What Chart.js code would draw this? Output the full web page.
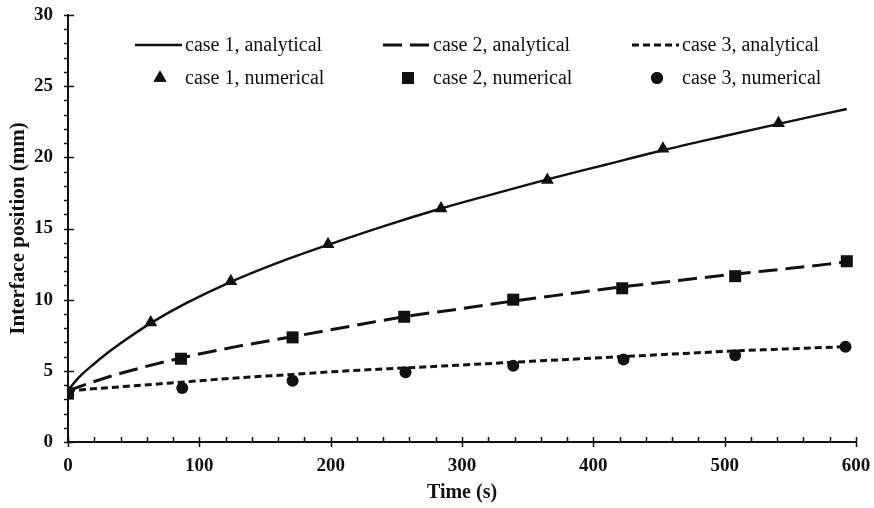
<!DOCTYPE html>
<html>
<head>
<meta charset="utf-8">
<script src="https://cdn.jsdelivr.net/npm/chart.js@4.4.1/dist/chart.umd.min.js"></script>
<style>
  html, body { margin: 0; padding: 0; background: #fff; }
  #wrap { width: 874px; height: 508px; }
</style>
</head>
<body>
<div id="wrap"><canvas id="chart"></canvas></div>
<script>
// analytical curves
var case1Time = [0, 5, 10, 20, 30, 45, 63, 90, 124, 160, 198, 240, 284, 325, 365, 410, 453, 500, 541, 593];
var case1Pos  = [3.6, 4.2, 4.7, 5.5, 6.25, 7.25, 8.35, 9.75, 11.25, 12.6, 13.85, 15.15, 16.4, 17.45, 18.45, 19.5, 20.5, 21.5, 22.35, 23.4];

var case2Time = [0, 20, 43, 86, 128, 171, 213, 256, 298, 339, 380, 422, 465, 508, 550, 593];
var case2Pos  = [3.6, 4.25, 4.9, 5.9, 6.7, 7.4, 8.1, 8.8, 9.35, 9.9, 10.4, 10.9, 11.35, 11.8, 12.2, 12.65];

var case3Time = [0, 43, 86, 128, 171, 213, 256, 298, 339, 380, 422, 465, 508, 550, 593];
var case3Pos  = [3.6, 3.9, 4.2, 4.5, 4.75, 5.0, 5.2, 5.4, 5.6, 5.8, 6.0, 6.2, 6.4, 6.55, 6.7];

// numerical results
var num1Time = [0, 63, 124, 198, 284, 365, 453, 541];
var num1Pos  = [3.5, 8.4, 11.3, 13.9, 16.4, 18.4, 20.6, 22.4];

var num2Time = [0, 86, 171, 256, 339, 422, 508, 593];
var num2Pos  = [3.4, 5.85, 7.35, 8.8, 10.0, 10.8, 11.65, 12.7];

var num3Time = [0, 87, 171, 257, 339, 423, 508, 592];
var num3Pos  = [3.5, 3.8, 4.3, 4.9, 5.35, 5.8, 6.1, 6.7];

var xMax = 600, xStep = 100, xMinorStep = 20;
var yMax = 30, yStep = 5, yMinorStep = 1;

function pts(xs, ys) {
  return xs.map(function (x, i) { return { x: x, y: ys[i] }; });
}

var serif = "'Liberation Serif', 'Times New Roman', serif";
Chart.defaults.font.family = serif;
Chart.defaults.color = '#111';

// minor / major tick marks like the original plot
var axisTicks = {
  id: 'axisTicks',
  afterDraw: function (chart) {
    var ctx = chart.ctx, xs = chart.scales.x, ys = chart.scales.y;
    var bottom = ys.bottom, left = xs.left;
    ctx.save();
    ctx.strokeStyle = '#111';
    ctx.lineWidth = 1.5;
    for (var v = 0; v <= xMax; v += xMinorStep) {
      var px = Math.round(xs.getPixelForValue(v)) + 0.5;
      var major = v % xStep === 0;
      ctx.beginPath();
      ctx.moveTo(px, bottom - 5);
      ctx.lineTo(px, bottom + (major ? 5 : 0));
      ctx.stroke();
    }
    for (v = 0; v <= yMax; v += yMinorStep) {
      var py = Math.round(ys.getPixelForValue(v)) + 0.5;
      var maj = v % yStep === 0;
      ctx.beginPath();
      ctx.moveTo(left - 4, py);
      ctx.lineTo(left + (maj ? 6 : 0), py);
      ctx.stroke();
    }
    ctx.restore();
  }
};

// legend in two rows of three, inside the plot
var gridLegend = {
  id: 'gridLegend',
  afterDraw: function (chart) {
    var ctx = chart.ctx;
    var cols = [135, 383, 632];
    var rows = [45, 78];
    ctx.save();
    ctx.font = '20px ' + serif;
    ctx.fillStyle = '#111';
    ctx.textBaseline = 'middle';
    chart.data.datasets.forEach(function (ds) {
      var col = cols[ds.legendCol], y = rows[ds.legendRow];
      if (ds.legendRow === 0) {
        ctx.save();
        ctx.strokeStyle = ds.borderColor;
        ctx.lineWidth = ds.borderWidth;
        ctx.setLineDash(ds.borderDash || []);
        ctx.beginPath();
        ctx.moveTo(col, y);
        ctx.lineTo(col + 47, y);
        ctx.stroke();
        ctx.restore();
      } else {
        Chart.helpers.drawPoint(ctx, {
          pointStyle: ds.pointStyle, radius: ds.pointRadius, rotation: 0, borderWidth: 0
        }, col + 25, y);
        ctx.fill();
      }
      ctx.fillText(ds.label, col + 50, y + 1);
    });
    ctx.restore();
  }
};

function lineSet(label, xs, ys, dash, width, col) {
  return {
    label: label, data: pts(xs, ys), showLine: true, pointRadius: 0,
    borderColor: '#111', borderWidth: width, borderDash: dash,
    cubicInterpolationMode: 'monotone', order: 2, legendRow: 0, legendCol: col
  };
}
function markSet(label, xs, ys, style, r, col, order) {
  return {
    label: label, data: pts(xs, ys), showLine: false, pointStyle: style,
    pointRadius: r, pointBackgroundColor: '#111', pointBorderWidth: 0,
    borderColor: '#111', order: order, legendRow: 1, legendCol: col
  };
}

new Chart(document.getElementById('chart'), {
  type: 'scatter',
  data: {
    datasets: [
      lineSet('case 1, analytical', case1Time, case1Pos, [], 2.5, 0),
      lineSet('case 2, analytical', case2Time, case2Pos, [19, 8], 3, 1),
      lineSet('case 3, analytical', case3Time, case3Pos, [7, 4], 3, 2),
      markSet('case 1, numerical', num1Time, num1Pos, 'triangle', 7.5, 0, 1),
      markSet('case 2, numerical', num2Time, num2Pos, 'rect', 8.5, 1, 0),
      markSet('case 3, numerical', num3Time, num3Pos, 'circle', 6, 2, 1)
    ]
  },
  options: {
    responsive: true,
    maintainAspectRatio: false,
    animation: false,
    layout: { padding: { left: 0, top: 15, right: 18, bottom: 0 } },
    plugins: { legend: { display: false }, tooltip: { enabled: false } },
    scales: {
      x: {
        type: 'linear', min: 0, max: xMax,
        grid: { display: false, drawTicks: false },
        border: { color: '#111', width: 2 },
        ticks: { stepSize: xStep, padding: 13, font: { size: 19, weight: 'bold' }, maxRotation: 0 },
        title: { display: true, text: 'Time (s)', font: { size: 20, weight: 'bold' }, padding: { top: 0, bottom: 3 } },
        afterFit: function (s) { s.height = 66; s.paddingLeft = 0; s.paddingRight = 0; }
      },
      y: {
        type: 'linear', min: 0, max: yMax,
        grid: { display: false, drawTicks: false },
        border: { color: '#111', width: 2 },
        ticks: { stepSize: yStep, padding: 15, font: { size: 19, weight: 'bold' } },
        title: { display: true, text: 'Interface position (mm)', font: { size: 21, weight: 'bold' }, padding: { top: 6, bottom: 0 } },
        afterFit: function (s) { s.width = 68; s.paddingTop = 0; s.paddingBottom = 0; }
      }
    }
  },
  plugins: [axisTicks, gridLegend]
});
</script>
</body>
</html>
